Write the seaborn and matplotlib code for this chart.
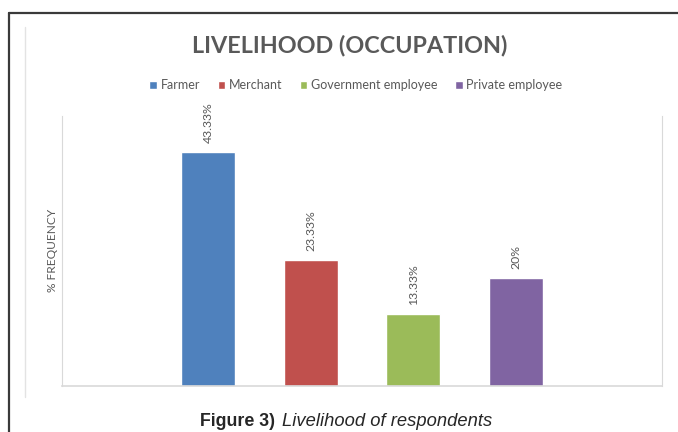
import matplotlib
matplotlib.use("Agg")
import matplotlib.pyplot as plt
from matplotlib.lines import Line2D
import pandas as pd
import seaborn as sns

# data
occupations = ["Farmer", "Merchant", "Government employee", "Private employee"]
frequency = [43.33, 23.33, 13.33, 20.0]
bar_labels = ["43.33%", "23.33%", "13.33%", "20%"]
colors = ["#4F81BD", "#C0504D", "#9BBB59", "#8064A2"]

df = pd.DataFrame({"Occupation": occupations, "Frequency": frequency})

sns.set_style("white")
plt.rcParams["font.family"] = ["Lato", "DejaVu Sans"]

fig = plt.figure(figsize=(6.78, 4.32), dpi=100)
ax = fig.add_axes([62 / 678, 1 - 386 / 432, 600 / 678, 270 / 432])

sns.barplot(data=df, x="Occupation", y="Frequency", hue="Occupation",
            palette=colors, width=0.526, saturation=1, legend=True, ax=ax)

ax.set_xlim(-1.42, 4.42)
ax.set_ylim(0, 50)
ax.set_xticks([])
ax.set_yticks([])
ax.set_xlabel("")
ax.set_ylabel("")
ax.spines["top"].set_visible(False)
for side in ["left", "right"]:
    ax.spines[side].set_color("#d9d9d9")
    ax.spines[side].set_linewidth(0.8)
ax.spines["bottom"].set_color("#d9d9d9")
ax.spines["bottom"].set_linewidth(1.2)

# value labels above the bars
for bar, lab in zip(ax.patches, bar_labels):
    ax.annotate(lab, (bar.get_x() + bar.get_width() / 2, bar.get_height()),
                xytext=(0, 6.5), textcoords="offset points", rotation=90,
                ha="center", va="bottom", fontsize=8.8, color="#595959")

sns.move_legend(ax, "center", bbox_to_anchor=(356 / 678, 1 - 85 / 432),
                bbox_transform=fig.transFigure, ncol=4, frameon=False,
                title=None, fontsize=9, handlelength=0.6, handleheight=0.6,
                handletextpad=0.3, columnspacing=1.4, labelcolor="#595959")

fig.text(350 / 678, 1 - 45 / 432, "LIVELIHOOD (OCCUPATION)", ha="center",
         va="center", fontsize=16.8, fontweight="bold", color="#595959")
fig.text(52 / 678, 1 - 250 / 432, "% FREQUENCY", rotation=90, ha="center",
         va="center", fontsize=8.6, color="#595959")

# caption under the chart
fig.text(275 / 678, 1 - 426 / 432, "Figure 3)", ha="right", va="baseline",
         fontsize=12.8, fontweight="bold", family="Liberation Sans")
fig.text(282 / 678, 1 - 426 / 432, "Livelihood of respondents", ha="left",
         va="baseline", fontsize=13.2, style="italic", family="Liberation Sans")

# outer frame and chart-area edge
fig.add_artist(Line2D([9 / 678, 1], [1 - 13 / 432] * 2, color="#3a3a3a", lw=1.6))
fig.add_artist(Line2D([9 / 678] * 2, [0, 1 - 13 / 432], color="#3a3a3a", lw=1.6))
fig.add_artist(Line2D([25 / 678] * 2, [1 - 397 / 432, 1 - 27 / 432],
                      color="#e3e3e3", lw=1))

fig.savefig("out.png", dpi=100)
